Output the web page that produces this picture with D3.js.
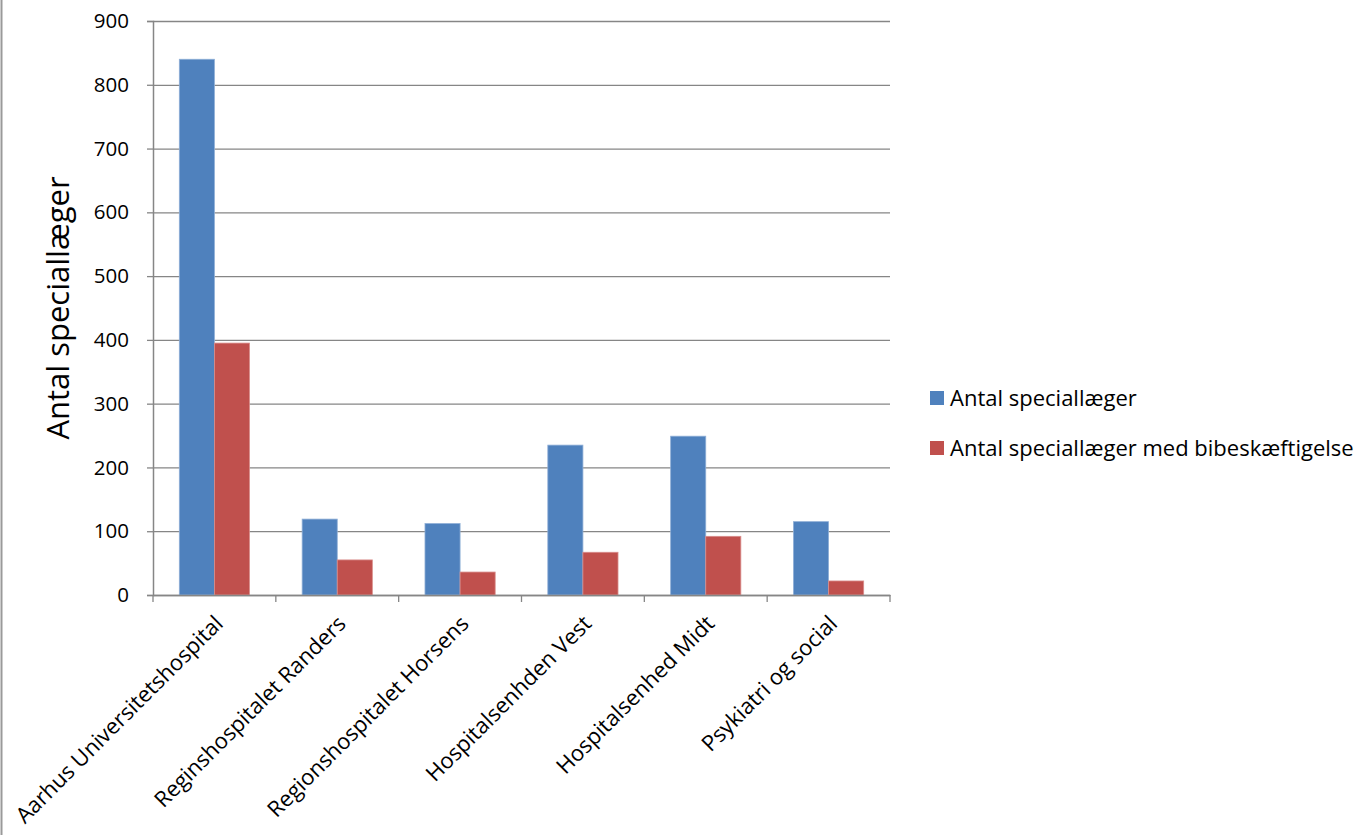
<!DOCTYPE html>
<html>
<head>
<meta charset="utf-8">
<script src="https://cdn.jsdelivr.net/npm/d3@7"></script>
<style>
  html, body { margin: 0; padding: 0; background: #fff; }
  svg { display: block; font-family: "Open Sans", "Noto Sans", sans-serif; }
</style>
</head>
<body>
<svg id="chart" width="1365" height="835"></svg>
<script>
// hospital categories
const categories = [
  "Aarhus Universitetshospital",
  "Reginshospitalet Randers",
  "Regionshospitalet Horsens",
  "Hospitalsenhden Vest",
  "Hospitalsenhed Midt",
  "Psykiatri og social"
];
const seriesNames = ["Antal speciallæger", "Antal speciallæger med bibeskæftigelse"];
const specialists = [840, 119, 112, 235, 249, 115];
const withSideJob = [395, 55, 36, 67, 92, 22];
const yTicks = [0, 100, 200, 300, 400, 500, 600, 700, 800, 900];
const colors = ["#4F81BD", "#C0504D"];

const svg = d3.select("#chart");
const margin = { left: 153, top: 21, right: 475, bottom: 240 };
const width = 1365 - margin.left - margin.right;
const height = 835 - margin.top - margin.bottom;

// left border of the picture
svg.append("line")
  .attr("x1", 1.5).attr("x2", 1.5)
  .attr("y1", 0).attr("y2", 835)
  .attr("stroke", "#9a9a9a").attr("stroke-width", 2);

const g = svg.append("g").attr("transform", `translate(${margin.left},${margin.top})`);

const x = d3.scaleBand()
  .domain(categories)
  .range([0, width])
  .paddingInner(0)
  .paddingOuter(0);

const inner = d3.scaleBand()
  .domain(seriesNames)
  .range([0, x.bandwidth() * 2 / 3.5]);

const y = d3.scaleLinear()
  .domain([0, 900])
  .range([height, 0]);

// gridlines
const yGrid = d3.axisLeft(y)
  .tickValues(yTicks)
  .tickSize(-width)
  .tickFormat('');
g.append("g")
  .attr("class", "y-grid")
  .call(yGrid)
  .call(s => s.select(".domain").remove())
  .call(s => s.selectAll("line").attr("stroke", "#868686").attr("stroke-width", 1.3));

// y-axis
const yAxis = d3.axisLeft(y)
  .tickValues(yTicks)
  .tickSize(6)
  .tickPadding(18);
g.append("g")
  .call(yAxis)
  .call(s => s.select(".domain").attr("stroke", "#868686").attr("stroke-width", 1.5))
  .call(s => s.selectAll(".tick line").attr("stroke", "#868686").attr("stroke-width", 1.3))
  .call(s => s.selectAll("text")
    .attr("font-family", "Open Sans, sans-serif")
    .attr("font-size", 20.5)
    .attr("fill", "#000"));

// bars
const series = [specialists, withSideJob];
const offset = x.bandwidth() * 0.75 / 3.5;
series.forEach((vals, si) => {
  g.selectAll(".bar-" + si)
    .data(vals)
    .enter().append("rect")
    .attr("class", "bar-" + si)
    .attr("x", (d, i) => x(categories[i]) + offset + inner(seriesNames[si]))
    .attr("y", d => y(d))
    .attr("width", inner.bandwidth())
    .attr("height", d => height - y(d))
    .attr("fill", colors[si])
    .attr("stroke", si === 0 ? "#8eaed6" : "#d98d8b")
    .attr("stroke-width", 0.8);
});

// x-axis
const xAxis = d3.axisBottom(x).tickSize(0).tickFormat('');
g.append("g")
  .attr("transform", `translate(0,${height})`)
  .call(xAxis)
  .call(s => s.select(".domain").attr("stroke", "#868686").attr("stroke-width", 1.5));

// tick marks at category boundaries
const bounds = categories.map(c => x(c)).concat([width]);
g.selectAll(".xtick")
  .data(bounds)
  .enter().append("line")
  .attr("x1", d => d).attr("x2", d => d)
  .attr("y1", height).attr("y2", height + 7)
  .attr("stroke", "#868686").attr("stroke-width", 1.3);

// rotated category labels
g.selectAll(".xlabel")
  .data(categories)
  .enter().append("text")
  .attr("class", "xlabel")
  .attr("transform", d => `translate(${x(d) + x.bandwidth() / 2 + 10},${height + 30}) rotate(-45)`)
  .attr("text-anchor", "end")
  .attr("font-size", 22)
  .attr("fill", "#000")
  .text(d => d);

// y title
svg.append("text")
  .attr("transform", `translate(69,${margin.top + height / 2}) rotate(-90)`)
  .attr("text-anchor", "middle")
  .attr("font-size", 31)
  .attr("fill", "#000")
  .text("Antal speciallæger");

// legend
const legend = svg.append("g").attr("transform", "translate(930,0)");
seriesNames.forEach((name, i) => {
  const ly = 391 + i * 50;
  legend.append("rect")
    .attr("x", 0).attr("y", ly)
    .attr("width", 14).attr("height", 14)
    .attr("fill", colors[i]);
  legend.append("text")
    .attr("x", 20).attr("y", ly + 15)
    .attr("font-size", 22)
    .attr("fill", "#000")
    .text(name);
});
</script>
</body>
</html>
